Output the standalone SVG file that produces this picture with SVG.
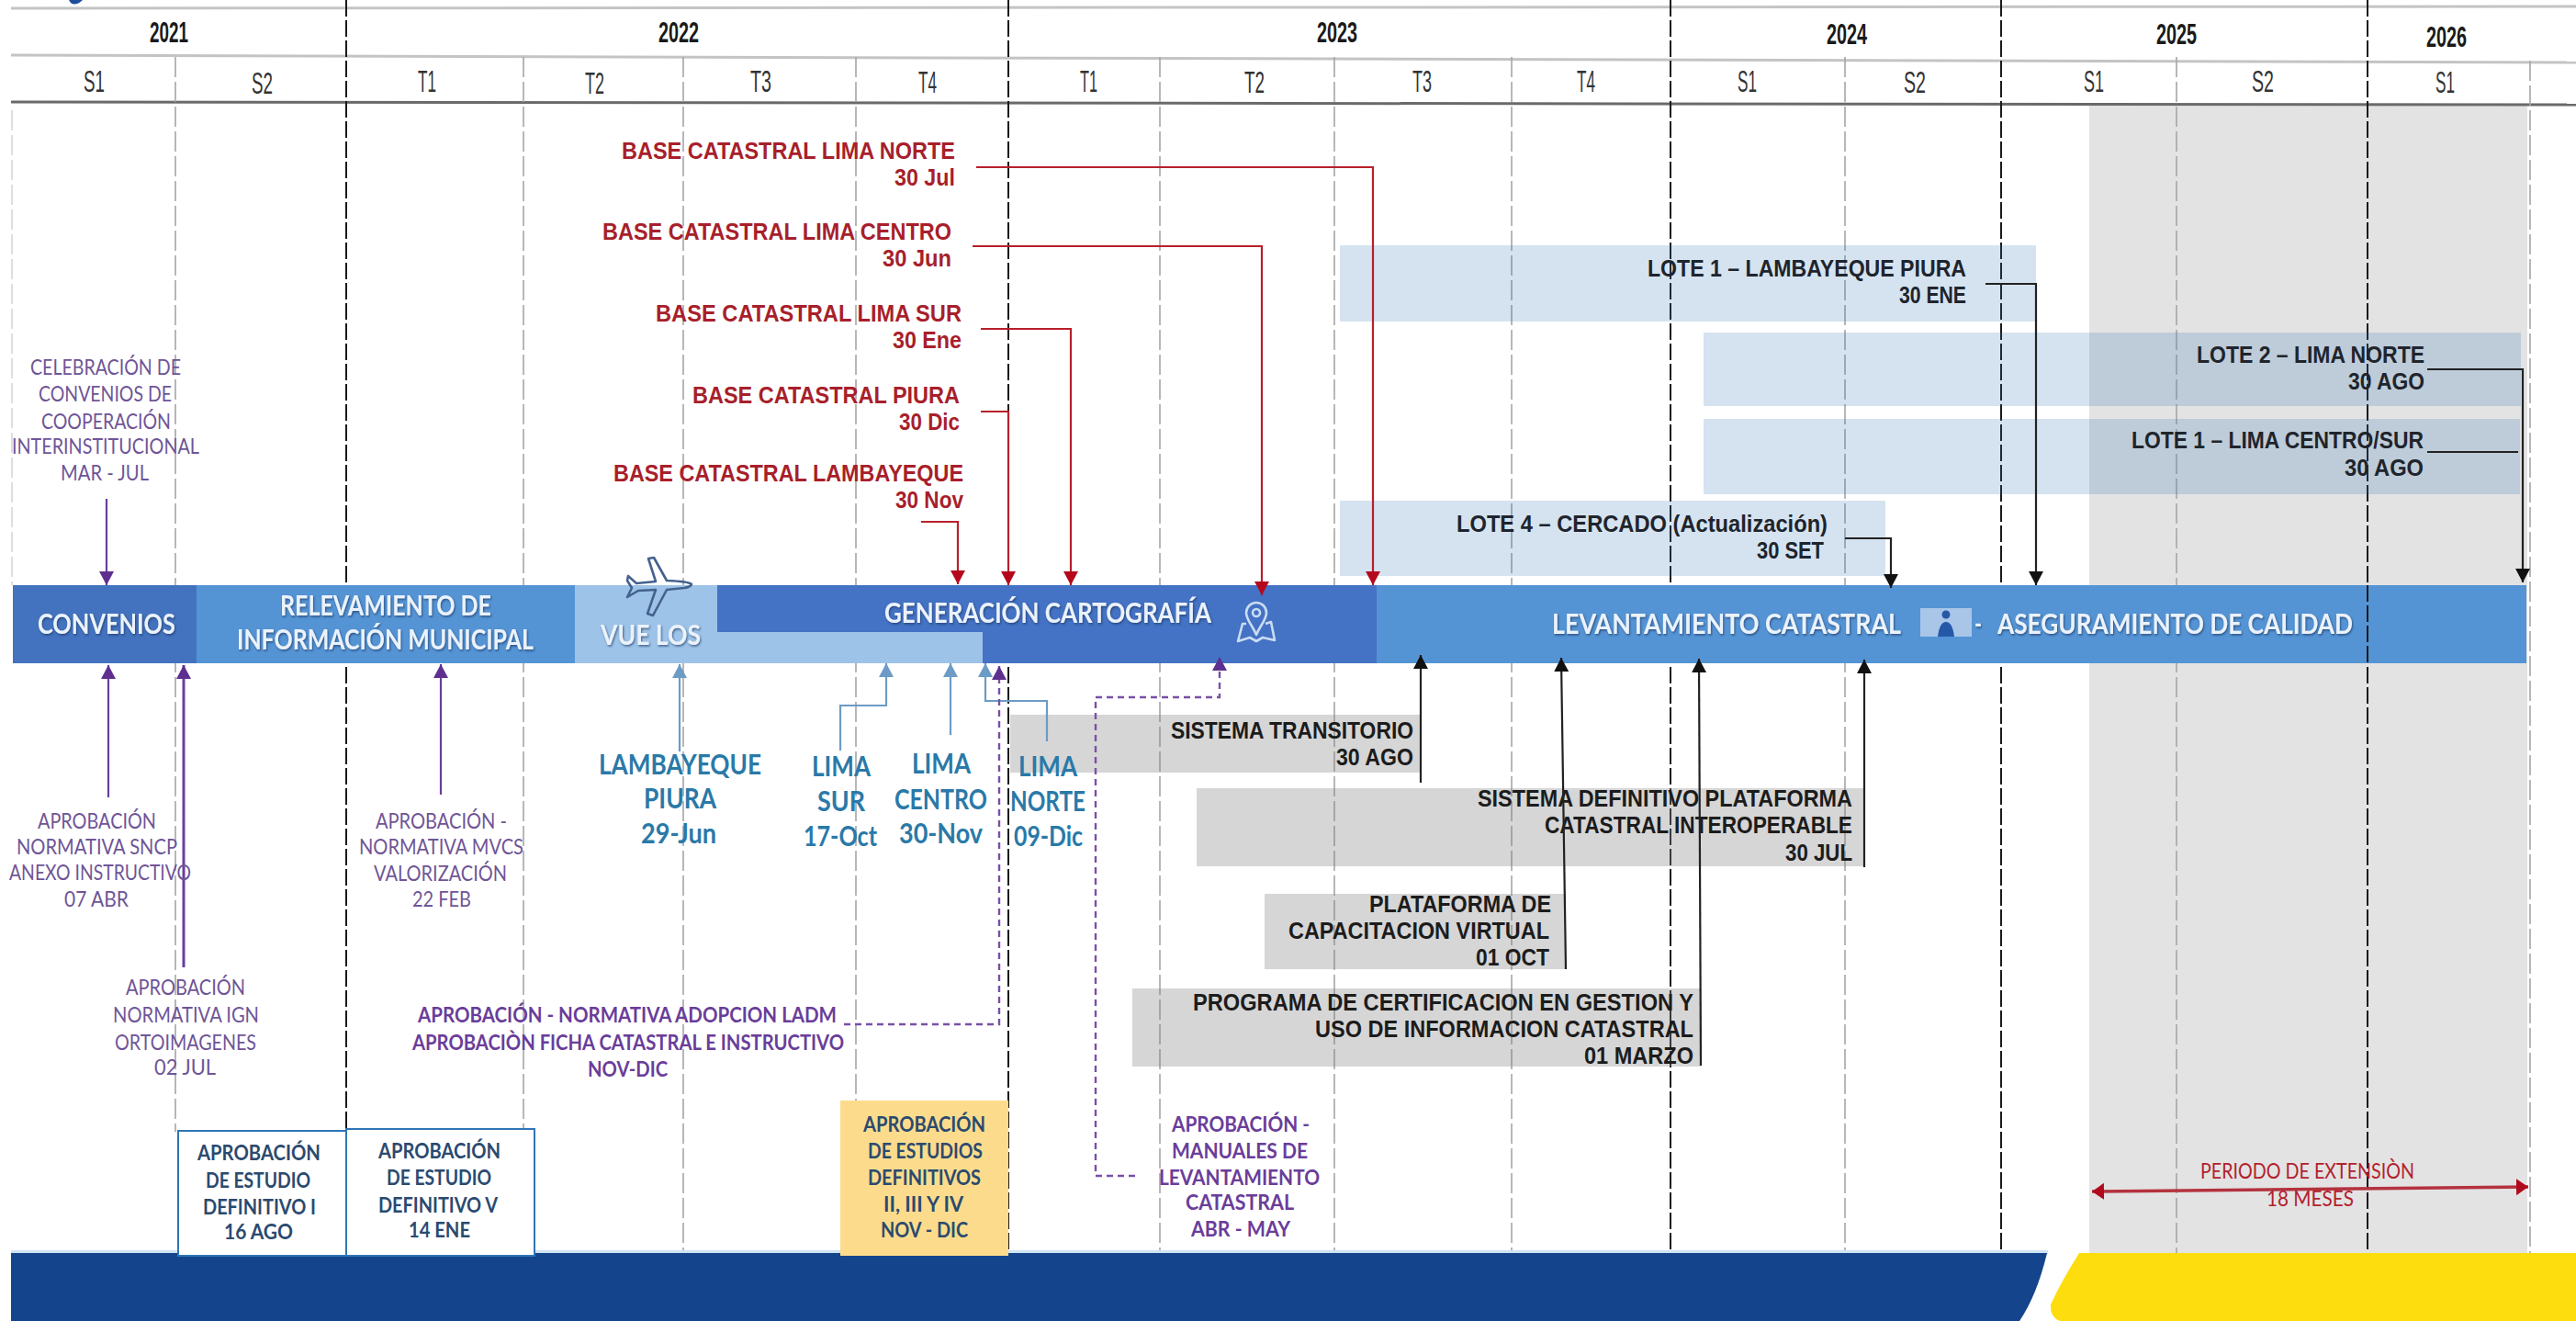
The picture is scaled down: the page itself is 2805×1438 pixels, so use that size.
<svg xmlns="http://www.w3.org/2000/svg" width="2805" height="1438" viewBox="0 0 2805 1438">
<style>
text{font-family:"Liberation Sans",Arial,sans-serif}
.yr{font-size:32px;font-weight:700;fill:#1a1a1a}
.per{font-size:34px;fill:#333}
.red{font-size:25px;font-weight:700;fill:#a81f2b}
.blk{font-size:26px;font-weight:700;fill:#1c1c1c}
.lote{font-size:26px;font-weight:700;fill:#20242c}
.pur{font-family:Lato,"Liberation Sans",sans-serif;font-size:23px;fill:#6f5597}
.purb{font-family:Lato,"Liberation Sans",sans-serif;font-size:23px;font-weight:700;fill:#6a3d9a}
.blu{font-family:Lato,"Liberation Sans",sans-serif;font-size:31px;font-weight:700;fill:#2a79a8}
.bar{font-family:Lato,"Liberation Sans",sans-serif;font-size:31px;font-weight:700;fill:#eaf2fb;filter:url(#sh)}
.box{font-family:Lato,"Liberation Sans",sans-serif;font-size:23px;font-weight:700;fill:#2b4a6f}
.ext{font-family:Lato,"Liberation Sans",sans-serif;font-size:23px;fill:#b3202c}
.vb{stroke:#1a1a1a;stroke-width:2;stroke-dasharray:18 4;fill:none}
.vg{stroke:#a6a6a6;stroke-width:1.6;stroke-dasharray:22 5;fill:none}
.c-red{stroke:#b8202c;stroke-width:2.2;fill:none;marker-end:url(#aR)}
.c-blk{stroke:#222;stroke-width:2.2;fill:none;marker-end:url(#aK)}
.c-pur{stroke:#6b3f9c;stroke-width:2.2;fill:none;marker-end:url(#aP)}
.c-pud{stroke:#7a4fa8;stroke-width:2.4;stroke-dasharray:7 5;fill:none;marker-end:url(#aP)}
.c-blu{stroke:#6c9bc6;stroke-width:2.2;fill:none;marker-end:url(#aB)}
.lb{fill:#2e75b6;fill-opacity:.2}
.gr{fill:#7f7f7f;fill-opacity:.32}
.ic{fill:none;stroke:#c9dcf2;stroke-width:2.6;stroke-linejoin:round}
</style>
<defs>
<filter id="sh" x="-5%" y="-20%" width="110%" height="150%"><feDropShadow dx="1" dy="1.5" stdDeviation="1" flood-color="#1d3560" flood-opacity=".7"/></filter>
<marker id="aR" markerUnits="userSpaceOnUse" markerWidth="18" markerHeight="18" refX="15" refY="8" orient="auto"><path d="M0,0L15,8L0,16Z" fill="#b5081c"/></marker>
<marker id="aK" markerUnits="userSpaceOnUse" markerWidth="18" markerHeight="18" refX="15" refY="8" orient="auto"><path d="M0,0L15,8L0,16Z" fill="#111"/></marker>
<marker id="aP" markerUnits="userSpaceOnUse" markerWidth="18" markerHeight="18" refX="15" refY="8" orient="auto"><path d="M0,0L15,8L0,16Z" fill="#5f2f8f"/></marker>
<marker id="aB" markerUnits="userSpaceOnUse" markerWidth="18" markerHeight="18" refX="15" refY="8" orient="auto"><path d="M0,0L15,8L0,16Z" fill="#6c9bc6"/></marker>
<marker id="aD" markerUnits="userSpaceOnUse" markerWidth="18" markerHeight="20" refX="13" refY="9" orient="auto-start-reverse"><path d="M0,0L13,9L0,18Z" fill="#b00a1c"/></marker>
</defs>
<rect width="2805" height="1438" fill="#fff"/>

<g id="extension-zone"><rect x="2275" y="115" width="477" height="1249" fill="#e3e3e3"/></g>
<g id="logo-fragment"><path d="M75,0H90Q85,5 80,4.500Q77,4 75,0Z" fill="#1d4f9c"/></g>

<g id="grid">
<path d="M12,9L2805,7" stroke="#c4c4c4" stroke-width="3" fill="none"/>
<path d="M12,60L2805,68" stroke="#c4c4c4" stroke-width="3" fill="none"/>
<path d="M12,111L2805,114" stroke="#6a6a6a" stroke-width="3" fill="none"/>
<path d="M13,120V637" stroke="#d6d6d6" stroke-width="1.600" stroke-dasharray="22 5" fill="none"/>
<path class="vg" d="M191,62V1232M570,62V1364M744,62V1364M932,62V1200M1263,62V1364M1453,62V1364M1646,62V1364M2009,62V1364M2370,62V1364M2755,66V1364"/>
<path class="vb" d="M377,0V1364M1098,0V1364M1819,0V1364M2179,0V1364M2578,0V1364"/>
</g>

<g id="lote-1-lambayeque"><rect class="lb" x="1459" y="267" width="758" height="83"/>
<text class="lote" x="1794" y="301" textLength="347" lengthAdjust="spacingAndGlyphs">LOTE 1 – LAMBAYEQUE PIURA</text>
<text class="lote" x="2068" y="330" textLength="73" lengthAdjust="spacingAndGlyphs">30 ENE</text></g>
<g id="lote-2-lima-norte"><rect class="lb" x="1855" y="362" width="890" height="80"/>
<text class="lote" x="2392" y="395" textLength="248" lengthAdjust="spacingAndGlyphs">LOTE 2 – LIMA NORTE</text>
<text class="lote" x="2557" y="424" textLength="83" lengthAdjust="spacingAndGlyphs">30 AGO</text></g>
<g id="lote-1-lima-centro-sur"><rect class="lb" x="1855" y="456" width="889" height="82"/>
<text class="lote" x="2321" y="488" textLength="318" lengthAdjust="spacingAndGlyphs">LOTE 1 – LIMA CENTRO/SUR</text>
<text class="lote" x="2553" y="518" textLength="86" lengthAdjust="spacingAndGlyphs">30 AGO</text></g>
<g id="lote-4-cercado"><rect class="lb" x="1459" y="545" width="594" height="82"/>
<text class="lote" x="1586" y="579" textLength="404" lengthAdjust="spacingAndGlyphs">LOTE 4 – CERCADO (Actualización)</text>
<text class="lote" x="1913" y="608" textLength="73" lengthAdjust="spacingAndGlyphs">30 SET</text></g>

<g id="sistema-transitorio"><rect class="gr" x="1100" y="778" width="447" height="63"/>
<text class="blk" x="1275" y="804" textLength="264" lengthAdjust="spacingAndGlyphs">SISTEMA TRANSITORIO</text>
<text class="blk" x="1455" y="833" textLength="84" lengthAdjust="spacingAndGlyphs">30 AGO</text></g>
<g id="sistema-definitivo"><rect class="gr" x="1303" y="858" width="727" height="85"/>
<text class="blk" x="1609" y="878" textLength="408" lengthAdjust="spacingAndGlyphs">SISTEMA DEFINITIVO PLATAFORMA</text>
<text class="blk" x="1682" y="907" textLength="335" lengthAdjust="spacingAndGlyphs">CATASTRAL INTEROPERABLE</text>
<text class="blk" x="1944" y="937" textLength="73" lengthAdjust="spacingAndGlyphs">30 JUL</text></g>
<g id="plataforma-capacitacion"><rect class="gr" x="1377" y="973" width="328" height="82"/>
<text class="blk" x="1491" y="993" textLength="198" lengthAdjust="spacingAndGlyphs">PLATAFORMA DE</text>
<text class="blk" x="1403" y="1022" textLength="284" lengthAdjust="spacingAndGlyphs">CAPACITACION VIRTUAL</text>
<text class="blk" x="1607" y="1051" textLength="80" lengthAdjust="spacingAndGlyphs">01 OCT</text></g>
<g id="programa-certificacion"><rect class="gr" x="1233" y="1076" width="619" height="85"/>
<text class="blk" x="1299" y="1100" textLength="545" lengthAdjust="spacingAndGlyphs">PROGRAMA DE CERTIFICACION EN GESTION Y</text>
<text class="blk" x="1432" y="1129" textLength="412" lengthAdjust="spacingAndGlyphs">USO DE INFORMACION CATASTRAL</text>
<text class="blk" x="1725" y="1158" textLength="119" lengthAdjust="spacingAndGlyphs">01 MARZO</text></g>

<g id="convenios"><rect x="14" y="637" width="200" height="85" fill="#4373bf"/>
<text class="bar" x="41" y="690" textLength="150" lengthAdjust="spacingAndGlyphs">CONVENIOS</text></g>
<g id="relevamiento"><rect x="214" y="637" width="412" height="85" fill="#5594d4"/>
<text class="bar" x="305" y="670" textLength="230" lengthAdjust="spacingAndGlyphs">RELEVAMIENTO DE</text>
<text class="bar" x="258" y="707" textLength="323" lengthAdjust="spacingAndGlyphs">INFORMACIÓN MUNICIPAL</text></g>
<g id="generacion"><rect x="781" y="637" width="718" height="85" fill="#4472c4"/>
<text class="bar" x="963" y="678" textLength="356" lengthAdjust="spacingAndGlyphs">GENERACIÓN CARTOGRAFÍA</text>
<path class="ic" d="M1368,656a11,11 0 0 1 11,11c0,8-7,14-11,24c-4-10-11-16-11-24a11,11 0 0 1 11-11Z"/>
<circle class="ic" cx="1368" cy="667" r="4"/>
<path class="ic" d="M1357,679L1353,679L1348,698L1361,694L1368,698L1375,694L1388,697L1384,677L1378,679"/></g>
<g id="vuelos"><rect x="626" y="637" width="155" height="85" fill="#9dc3e8"/>
<rect x="781" y="688" width="289" height="34" fill="#9dc3e8"/>
<text class="bar" x="654" y="702" textLength="109" lengthAdjust="spacingAndGlyphs">VUE LOS</text>
<path d="M753,636Q750,633 726,632L712,607L706,608L714,633L693,635L684,627L683,632L688,640L683,650L695,643L714,642L705,668L711,670L726,642L745,640Q752,639 753,636Z" fill="none" stroke="#44628e" stroke-width="2.6" stroke-linejoin="round"/></g>
<g id="levantamiento"><rect x="1499" y="637" width="1252" height="85" fill="#5594d4"/>
<text class="bar" x="1690" y="690" textLength="380" lengthAdjust="spacingAndGlyphs">LEVANTAMIENTO CATASTRAL</text>
<rect x="2091" y="662" width="56" height="31" fill="#a9c5e8"/>
<circle cx="2119" cy="669" r="4.500" fill="#2559a8"/>
<path d="M2110,693Q2112,677 2119,677Q2126,677 2128,693Z" fill="#2559a8"/>
<text class="bar" x="2150" y="690" textLength="8" lengthAdjust="spacingAndGlyphs">-</text>
<text class="bar" x="2175" y="690" textLength="387" lengthAdjust="spacingAndGlyphs">ASEGURAMIENTO DE CALIDAD</text>
<path class="vb" d="M2578,637V722"/></g>

<g id="band"><rect x="12" y="1361" width="2218" height="4" fill="#cfe3f5"/>
<path d="M12,1364H2229Q2218,1410 2199,1438H12Z" fill="#14458c"/>
<path d="M2264,1364H2805V1438H2243Q2232,1434 2233,1420Q2244,1396 2264,1364Z" fill="#fddd0e"/></g>

<g id="study-i"><rect x="194" y="1231" width="183" height="136" fill="#fff" stroke="#2e75b6" stroke-width="2"/>
<text class="box" x="215" y="1263" textLength="134" lengthAdjust="spacingAndGlyphs">APROBACIÓN</text>
<text class="box" x="224" y="1293" textLength="114" lengthAdjust="spacingAndGlyphs">DE ESTUDIO</text>
<text class="box" x="221" y="1322" textLength="123" lengthAdjust="spacingAndGlyphs">DEFINITIVO I</text>
<text class="box" x="244" y="1349" textLength="75" lengthAdjust="spacingAndGlyphs">16 AGO</text></g>
<g id="study-v"><rect x="377" y="1229" width="205" height="138" fill="#fff" stroke="#2e75b6" stroke-width="2"/>
<text class="box" x="412" y="1261" textLength="133" lengthAdjust="spacingAndGlyphs">APROBACIÓN</text>
<text class="box" x="421" y="1290" textLength="114" lengthAdjust="spacingAndGlyphs">DE ESTUDIO</text>
<text class="box" x="412" y="1320" textLength="130" lengthAdjust="spacingAndGlyphs">DEFINITIVO V</text>
<text class="box" x="445" y="1347" textLength="67" lengthAdjust="spacingAndGlyphs">14 ENE</text></g>
<g id="study-ii-iii-iv"><rect x="915" y="1198" width="183" height="169" fill="#fcdc8c"/>
<text class="box" x="940" y="1232" textLength="133" lengthAdjust="spacingAndGlyphs">APROBACIÓN</text>
<text class="box" x="945" y="1261" textLength="125" lengthAdjust="spacingAndGlyphs">DE ESTUDIOS</text>
<text class="box" x="945" y="1290" textLength="123" lengthAdjust="spacingAndGlyphs">DEFINITIVOS</text>
<text class="box" x="962" y="1319" textLength="87" lengthAdjust="spacingAndGlyphs">II, III Y IV</text>
<text class="box" x="959" y="1347" textLength="95" lengthAdjust="spacingAndGlyphs">NOV - DIC</text></g>

<g id="connectors">
<path class="c-red" d="M1063,182H1495V637"/>
<path class="c-red" d="M1059,268H1374V648"/>
<path class="c-red" d="M1068,358H1166V637"/>
<path class="c-red" d="M1068,448H1098V637"/>
<path class="c-red" d="M1003,568H1043V636"/>
<path class="c-blk" d="M2162,309H2217V637"/>
<path class="c-blk" d="M2643,402H2747V634"/>
<path d="M2643,492H2742" stroke="#222" stroke-width="2.200" fill="none"/>
<path class="c-blk" d="M2009,586H2059V640"/>
<path class="c-blk" d="M1547,852V713"/>
<path class="c-blk" d="M2030,944V718"/>
<path class="c-blk" d="M1705,1055L1700,716"/>
<path class="c-blk" d="M1852,1160L1850,717"/>
<path class="c-pur" d="M116,543V637"/>
<path class="c-pur" d="M118,868V724"/>
<path class="c-pur" d="M200,1053V724" style="stroke-width:3"/>
<path class="c-pur" d="M480,865V723"/>
<path class="c-blu" d="M740,818V723"/>
<path class="c-blu" d="M915,817V768H965V722"/>
<path class="c-blu" d="M1035,800V722"/>
<path class="c-blu" d="M1140,807V763H1073V722"/>
<path class="c-pud" d="M919,1115H1088V725"/>
<path class="c-pud" d="M1236,1280H1193V759H1328V715"/>
<path d="M2278,1297L2753,1292" stroke="#b4323e" stroke-width="3.500" fill="none" marker-start="url(#aD)" marker-end="url(#aD)"/>
</g>

<g id="years">
<text class="yr" x="163" y="46" textLength="42" lengthAdjust="spacingAndGlyphs">2021</text>
<text class="yr" x="717" y="46" textLength="44" lengthAdjust="spacingAndGlyphs">2022</text>
<text class="yr" x="1434" y="46" textLength="44" lengthAdjust="spacingAndGlyphs">2023</text>
<text class="yr" x="1989" y="48" textLength="44" lengthAdjust="spacingAndGlyphs">2024</text>
<text class="yr" x="2348" y="48" textLength="44" lengthAdjust="spacingAndGlyphs">2025</text>
<text class="yr" x="2642" y="51" textLength="44" lengthAdjust="spacingAndGlyphs">2026</text>
</g>
<g id="periods">
<text class="per" x="91" y="100" textLength="23" lengthAdjust="spacingAndGlyphs">S1</text>
<text class="per" x="274" y="102" textLength="23" lengthAdjust="spacingAndGlyphs">S2</text>
<text class="per" x="455" y="100" textLength="20" lengthAdjust="spacingAndGlyphs">T1</text>
<text class="per" x="637" y="102" textLength="21" lengthAdjust="spacingAndGlyphs">T2</text>
<text class="per" x="817" y="100" textLength="23" lengthAdjust="spacingAndGlyphs">T3</text>
<text class="per" x="1000" y="101" textLength="20" lengthAdjust="spacingAndGlyphs">T4</text>
<text class="per" x="1176" y="100" textLength="19" lengthAdjust="spacingAndGlyphs">T1</text>
<text class="per" x="1355" y="101" textLength="22" lengthAdjust="spacingAndGlyphs">T2</text>
<text class="per" x="1538" y="100" textLength="21" lengthAdjust="spacingAndGlyphs">T3</text>
<text class="per" x="1717" y="100" textLength="20" lengthAdjust="spacingAndGlyphs">T4</text>
<text class="per" x="1892" y="100" textLength="21" lengthAdjust="spacingAndGlyphs">S1</text>
<text class="per" x="2073" y="101" textLength="24" lengthAdjust="spacingAndGlyphs">S2</text>
<text class="per" x="2269" y="100" textLength="22" lengthAdjust="spacingAndGlyphs">S1</text>
<text class="per" x="2452" y="100" textLength="24" lengthAdjust="spacingAndGlyphs">S2</text>
<text class="per" x="2652" y="101" textLength="21" lengthAdjust="spacingAndGlyphs">S1</text>
</g>

<g id="base-lima-norte"><text class="red" x="677" y="173" textLength="363" lengthAdjust="spacingAndGlyphs">BASE CATASTRAL LIMA NORTE</text>
<text class="red" x="974" y="202" textLength="66" lengthAdjust="spacingAndGlyphs">30 Jul</text></g>
<g id="base-lima-centro"><text class="red" x="656" y="261" textLength="380" lengthAdjust="spacingAndGlyphs">BASE CATASTRAL LIMA CENTRO</text>
<text class="red" x="961" y="290" textLength="75" lengthAdjust="spacingAndGlyphs">30 Jun</text></g>
<g id="base-lima-sur"><text class="red" x="714" y="350" textLength="333" lengthAdjust="spacingAndGlyphs">BASE CATASTRAL LIMA SUR</text>
<text class="red" x="972" y="379" textLength="75" lengthAdjust="spacingAndGlyphs">30 Ene</text></g>
<g id="base-piura"><text class="red" x="754" y="439" textLength="291" lengthAdjust="spacingAndGlyphs">BASE CATASTRAL PIURA</text>
<text class="red" x="979" y="468" textLength="66" lengthAdjust="spacingAndGlyphs">30 Dic</text></g>
<g id="base-lambayeque"><text class="red" x="668" y="524" textLength="381" lengthAdjust="spacingAndGlyphs">BASE CATASTRAL LAMBAYEQUE</text>
<text class="red" x="975" y="553" textLength="74" lengthAdjust="spacingAndGlyphs">30 Nov</text></g>

<g id="celebracion">
<text class="pur" x="33" y="408" textLength="164" lengthAdjust="spacingAndGlyphs">CELEBRACIÓN DE</text>
<text class="pur" x="42" y="437" textLength="145" lengthAdjust="spacingAndGlyphs">CONVENIOS DE</text>
<text class="pur" x="45" y="467" textLength="141" lengthAdjust="spacingAndGlyphs">COOPERACIÓN</text>
<text class="pur" x="13" y="494" textLength="204" lengthAdjust="spacingAndGlyphs">INTERINSTITUCIONAL</text>
<text class="pur" x="66" y="523" textLength="96" lengthAdjust="spacingAndGlyphs">MAR - JUL</text></g>
<g id="normativa-sncp">
<text class="pur" x="41" y="902" textLength="129" lengthAdjust="spacingAndGlyphs">APROBACIÓN</text>
<text class="pur" x="18" y="930" textLength="175" lengthAdjust="spacingAndGlyphs">NORMATIVA SNCP</text>
<text class="pur" x="10" y="958" textLength="198" lengthAdjust="spacingAndGlyphs">ANEXO INSTRUCTIVO</text>
<text class="pur" x="70" y="987" textLength="70" lengthAdjust="spacingAndGlyphs">07 ABR</text></g>
<g id="normativa-ign">
<text class="pur" x="137" y="1083" textLength="130" lengthAdjust="spacingAndGlyphs">APROBACIÓN</text>
<text class="pur" x="123" y="1113" textLength="159" lengthAdjust="spacingAndGlyphs">NORMATIVA IGN</text>
<text class="pur" x="125" y="1143" textLength="154" lengthAdjust="spacingAndGlyphs">ORTOIMAGENES</text>
<text class="pur" x="168" y="1170" textLength="67" lengthAdjust="spacingAndGlyphs">02 JUL</text></g>
<g id="normativa-mvcs">
<text class="pur" x="409" y="902" textLength="143" lengthAdjust="spacingAndGlyphs">APROBACIÓN -</text>
<text class="pur" x="391" y="930" textLength="179" lengthAdjust="spacingAndGlyphs">NORMATIVA MVCS</text>
<text class="pur" x="407" y="959" textLength="145" lengthAdjust="spacingAndGlyphs">VALORIZACIÓN</text>
<text class="pur" x="449" y="987" textLength="64" lengthAdjust="spacingAndGlyphs">22 FEB</text></g>
<g id="normativa-ladm">
<text class="purb" x="455" y="1113" textLength="456" lengthAdjust="spacingAndGlyphs">APROBACIÓN - NORMATIVA ADOPCION LADM</text>
<text class="purb" x="449" y="1143" textLength="470" lengthAdjust="spacingAndGlyphs">APROBACIÒN FICHA CATASTRAL E INSTRUCTIVO</text>
<text class="purb" x="640" y="1172" textLength="87" lengthAdjust="spacingAndGlyphs">NOV-DIC</text></g>
<g id="manuales">
<text class="purb" x="1276" y="1232" textLength="150" lengthAdjust="spacingAndGlyphs">APROBACIÓN -</text>
<text class="purb" x="1276" y="1261" textLength="148" lengthAdjust="spacingAndGlyphs">MANUALES DE</text>
<text class="purb" x="1262" y="1290" textLength="175" lengthAdjust="spacingAndGlyphs">LEVANTAMIENTO</text>
<text class="purb" x="1291" y="1317" textLength="118" lengthAdjust="spacingAndGlyphs">CATASTRAL</text>
<text class="purb" x="1297" y="1346" textLength="108" lengthAdjust="spacingAndGlyphs">ABR - MAY</text></g>

<g id="vuelo-lambayeque">
<text class="blu" x="652" y="843" textLength="177" lengthAdjust="spacingAndGlyphs">LAMBAYEQUE</text>
<text class="blu" x="701" y="880" textLength="79" lengthAdjust="spacingAndGlyphs">PIURA</text>
<text class="blu" x="698" y="918" textLength="82" lengthAdjust="spacingAndGlyphs">29-Jun</text></g>
<g id="vuelo-lima-sur">
<text class="blu" x="884" y="845" textLength="64" lengthAdjust="spacingAndGlyphs">LIMA</text>
<text class="blu" x="890" y="883" textLength="52" lengthAdjust="spacingAndGlyphs">SUR</text>
<text class="blu" x="875" y="921" textLength="80" lengthAdjust="spacingAndGlyphs">17-Oct</text></g>
<g id="vuelo-lima-centro">
<text class="blu" x="993" y="842" textLength="64" lengthAdjust="spacingAndGlyphs">LIMA</text>
<text class="blu" x="974" y="881" textLength="101" lengthAdjust="spacingAndGlyphs">CENTRO</text>
<text class="blu" x="979" y="918" textLength="91" lengthAdjust="spacingAndGlyphs">30-Nov</text></g>
<g id="vuelo-lima-norte">
<text class="blu" x="1109" y="845" textLength="64" lengthAdjust="spacingAndGlyphs">LIMA</text>
<text class="blu" x="1100" y="883" textLength="82" lengthAdjust="spacingAndGlyphs">NORTE</text>
<text class="blu" x="1104" y="921" textLength="75" lengthAdjust="spacingAndGlyphs">09-Dic</text></g>

<g id="periodo-extension">
<text class="ext" x="2396" y="1283" textLength="233" lengthAdjust="spacingAndGlyphs">PERIODO DE EXTENSIÒN</text>
<text class="ext" x="2468" y="1313" textLength="95" lengthAdjust="spacingAndGlyphs">18 MESES</text></g>
</svg>
